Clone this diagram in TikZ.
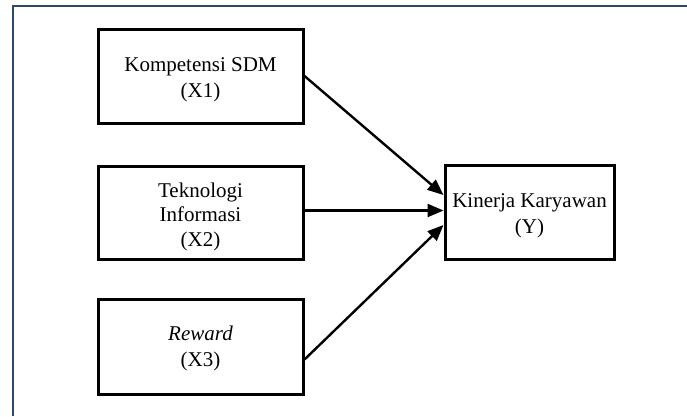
\documentclass[tikz,border=0pt]{standalone}
\usepackage{fontspec}
\setmainfont{Liberation Serif}
\usetikzlibrary{arrows.meta}
\definecolor{framecol}{HTML}{2E4A66}
\begin{document}
\begin{tikzpicture}[x=1pt,y=1pt,
  varbox/.style={draw=black, line width=3pt, inner sep=0pt},
  vartext/.style={inner sep=0pt, align=center, font=\fontsize{21}{26}\selectfont},
  conn/.style={line width=2.4pt, -{Triangle[length=16pt,width=13pt]}}]
\useasboundingbox (0,0) rectangle (687,-416);
\fill[white] (0,0) rectangle (687,-416);
\draw[framecol, line width=2.2pt] (13,-416) -- (13,-6) -- (687,-6);
\node[varbox, minimum width=205pt, minimum height=94pt] (x1) at (200.5,-76) {};
\node[varbox, minimum width=205pt, minimum height=93pt] (x2) at (200.5,-212.5) {};
\node[varbox, minimum width=205pt, minimum height=95pt] (x3) at (200.5,-346.5) {};
\node[varbox, minimum width=169pt, minimum height=94pt] (y) at (529.5,-212) {};
\node[vartext] (x1t) at ([yshift=-4pt]x1.center) {Kompetensi SDM\\(X1)};
\node[vartext, font=\fontsize{21}{24.5}\selectfont] (x2t) at ([yshift=-4pt]x2.center) {Teknologi\\Informasi\\(X2)};
\node[vartext] (x3t) at ([yshift=-2pt]x3.center) {\textit{Reward}\\(X3)};
\node[vartext] (yt) at ([yshift=-4pt]y.center) {Kinerja Karyawan\\(Y)};
\draw[conn] (x1.east) -- ([yshift=17pt]y.west);
\draw[conn] ([yshift=2pt]x2.east) -- ([yshift=2pt]x2.east -| y.west);
\draw[conn] ([yshift=-13pt]x3.east) -- ([yshift=-13pt]y.west);
\end{tikzpicture}
\end{document}
